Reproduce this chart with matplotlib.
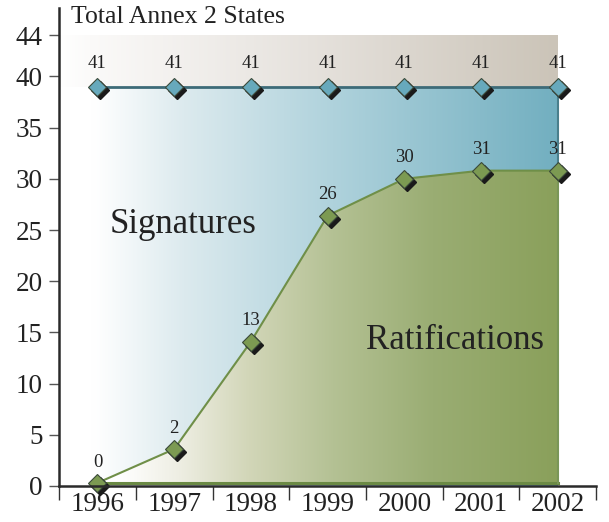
import numpy as np
import matplotlib
matplotlib.use("Agg")
import matplotlib.pyplot as plt
from matplotlib.colors import LinearSegmentedColormap
from matplotlib.patches import Polygon
from matplotlib.transforms import offset_copy

years = ["1996", "1997", "1998", "1999", "2000", "2001", "2002"]
# heights as drawn in the picture, and the numbers printed above the points
total_plot = [39.0, 39.0, 39.0, 39.0, 39.0, 39.0, 39.0]
total_labels = [41, 41, 41, 41, 41, 41, 41]
ratif_plot = [0.3, 3.6, 14.1, 26.4, 30.0, 30.8, 30.8]
ratif_labels = [0, 2, 13, 26, 30, 31, 31]

plt.rcParams["font.family"] = ["Liberation Serif", "DejaVu Serif"]

fig = plt.figure(figsize=(6.09, 5.22), dpi=100)
ax = fig.add_axes([0.097, 0.069, 0.882, 0.916])

x = np.arange(len(years)) + 0.5
x_left, x_right = 0, x[-1]
y_top = 44


def gradient_fill(verts, stops, zorder):
    cmap = LinearSegmentedColormap.from_list("g", stops)
    grad = np.linspace(0, 1, 256).reshape(1, -1)
    im = ax.imshow(grad, cmap=cmap, aspect="auto", zorder=zorder,
                   extent=[x_left, x_right, 0, y_top], origin="lower",
                   interpolation="bicubic")
    poly = Polygon(verts, closed=True, transform=ax.transData,
                   facecolor="none", edgecolor="none")
    ax.add_patch(poly)
    im.set_clip_path(poly)


# grey band above the total line
gradient_fill([(x_left, total_plot[0]), (x_right, total_plot[-1]),
               (x_right, y_top), (x_left, y_top)],
              [(0, "#ffffff"), (0.06, "#fbfaf9"), (0.5, "#e6e2dd"), (1, "#cbc4b8")], 1)

# blue signatures area
gradient_fill([(x_left, 0), (x_right, 0), (x_right, total_plot[-1]),
               (x_left, total_plot[0])],
              [(0, "#ffffff"), (0.07, "#ffffff"), (0.25, "#dceaee"),
               (0.55, "#afd2dc"), (1, "#72afc0")], 2)

# green ratifications area
green_verts = list(zip(x, ratif_plot)) + [(x[-1], ratif_plot[0])]
gradient_fill(green_verts,
              [(0, "#ffffff"), (0.12, "#ffffff"), (0.24, "#eeeee3"), (0.38, "#d2d6b8"),
               (0.55, "#b4c194"), (0.75, "#9aad73"), (1, "#8aa05b")], 3)

# outlines
ax.plot([x[-1], x[-1]], [ratif_plot[-1], total_plot[-1]], color="#4a7f8c", lw=1.5, zorder=4)
ax.plot([x[0], x[-1]], [ratif_plot[0], ratif_plot[0]], color="#6b8a45", lw=2.2, zorder=4)
ax.plot([x[-1], x[-1]], [ratif_plot[0], ratif_plot[-1]], color="#7a9658", lw=1.5, zorder=4)
ax.plot(x, ratif_plot, color="#6f8f48", lw=1.5, zorder=4)
ax.plot(x, total_plot, color="#3d6b78", lw=2, zorder=4)

# markers with drop shadow
shadow = offset_copy(ax.transData, fig=fig, x=3, y=-3, units="dots")
for ys, face in [(total_plot, "#67a9bc"), (ratif_plot, "#7c9a52")]:
    ax.plot(x, ys, "D", ms=9, color="#1a1a1a", transform=shadow, zorder=5, clip_on=False)
    ax.plot(x, ys, "D", ms=9, mfc=face, mec="#3b4a3a", mew=0.8, zorder=6, clip_on=False)

for xi, yi, lab in zip(x, total_plot, total_labels):
    ax.annotate(str(lab), (xi, yi), xytext=(0, 17), textcoords="offset points",
                ha="center", va="center", fontsize=13.5, color="#222222", zorder=7)
for xi, yi, lab in zip(x, ratif_plot, ratif_labels):
    ax.annotate(str(lab), (xi, yi), xytext=(0, 15), textcoords="offset points",
                ha="center", va="center", fontsize=13.5, color="#222222", zorder=7)

ax.text(1.62, 25.5, "Signatures", fontsize=25, ha="center", va="center",
        color="#222222", zorder=7)
ax.text(5.16, 14.2, "Ratifications", fontsize=25, ha="center", va="center",
        color="#222222", zorder=7)
ax.text(0.16, 45.8, "Total Annex 2 States", fontsize=18.5, ha="left", va="center",
        color="#222222", zorder=7)

ax.set_xlim(0, 7)
ax.set_ylim(0, 46.7)
ax.set_yticks([0, 5, 10, 15, 20, 25, 30, 35, 40, 44])
ax.set_xticks(np.arange(0, 8))
ax.set_xticklabels([])
ax.set_xticks(x, minor=True)
ax.set_xticklabels(years, minor=True)
ax.tick_params(axis="x", which="major", length=10, width=1, color="#333333", direction="out")
ax.tick_params(axis="x", which="minor", length=0, pad=4, labelsize=19.5, labelcolor="#222222")
ax.tick_params(axis="y", length=7, width=1, color="#555555", pad=5, labelsize=19.5,
               labelcolor="#222222")

for side in ["top", "right"]:
    ax.spines[side].set_visible(False)
for side in ["left", "bottom"]:
    ax.spines[side].set_color("#2a2a2a")
    ax.spines[side].set_linewidth(1.8)
    ax.spines[side].set_zorder(8)
ax.set_facecolor("white")

fig.savefig("out.png", dpi=100)
